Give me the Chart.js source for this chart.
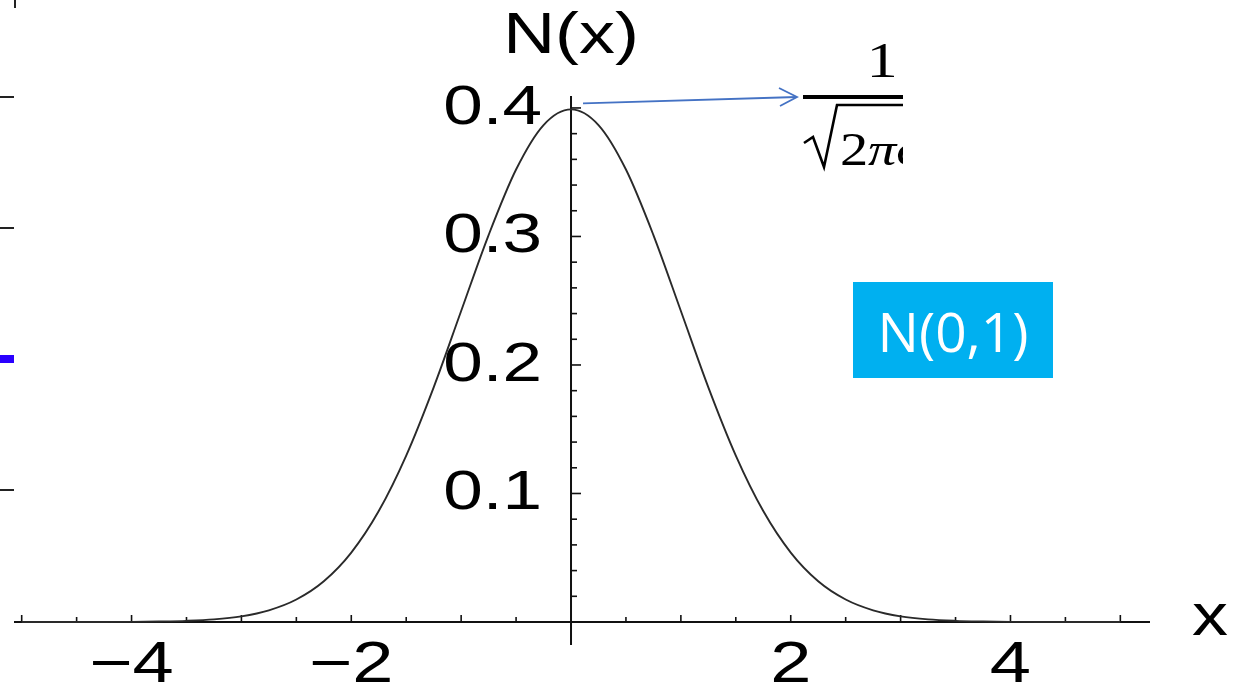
<!DOCTYPE html>
<html>
<head>
<meta charset="utf-8">
<script src="https://cdn.jsdelivr.net/npm/chart.js@4/dist/chart.umd.min.js"></script>
<style>
  html, body { margin: 0; padding: 0; background: #ffffff; }
  canvas { display: block; }
</style>
</head>
<body>
<canvas id="chartCanvas" width="1235" height="686"></canvas>
<script>
// x positions of the sampled density and the values read at each one
const xValues = [-5, -4.75, -4.5, -4.25, -4, -3.75, -3.5, -3.25, -3, -2.75, -2.5, -2.25, -2, -1.75, -1.5, -1.25, -1, -0.75, -0.5, -0.25,
    0, 0.25, 0.5, 0.75, 1, 1.25, 1.5, 1.75, 2, 2.25, 2.5, 2.75, 3, 3.25, 3.5, 3.75, 4, 4.25, 4.5, 4.75, 5];
const densityValues = [0, 0, 0, 0, 0.0001, 0.0004, 0.0009, 0.0020, 0.0044, 0.0091, 0.0175, 0.0317, 0.0540, 0.0863, 0.1295, 0.1826, 0.2420, 0.3011, 0.3521, 0.3867,
    0.3989, 0.3867, 0.3521, 0.3011, 0.2420, 0.1826, 0.1295, 0.0863, 0.0540, 0.0317, 0.0175, 0.0091, 0.0044, 0.0020, 0.0009, 0.0004, 0.0001, 0, 0, 0, 0];

// labelled ticks on both axes
const xTickValues = [-4, -2, 2, 4];
const xTickLabels = ['\u22124', '\u22122', '2', '4'];
const yTickValues = [0.1, 0.2, 0.3, 0.4];
const yTickLabels = ['0.1', '0.2', '0.3', '0.4'];

// axis titles and the peak annotation
const xAxisTitle = 'x';
const yAxisTitle = 'N(x)';
const peakX = 0;
const peakValue = 0.3989;
const boxLabel = 'N(0,1)';

// draw text squeezed/stretched horizontally around its anchor
function stretchedText(ctx, text, x, y, font, align, sx) {
    ctx.save();
    ctx.translate(x, y);
    ctx.scale(sx, 1);
    ctx.font = font;
    ctx.textAlign = align;
    ctx.textBaseline = 'alphabetic';
    ctx.fillText(text, 0, 0);
    ctx.restore();
}

// axes through the origin, Mathematica style, with minor ticks
const originAxes = {
    id: 'originAxes',
    beforeDatasetsDraw(chart) {
        const ctx = chart.ctx;
        const xs = chart.scales.x;
        const ys = chart.scales.y;
        const x0 = xs.getPixelForValue(0);
        const y0 = ys.getPixelForValue(0);

        ctx.save();
        ctx.strokeStyle = '#111111';
        ctx.lineWidth = 2;

        // horizontal axis
        ctx.beginPath();
        ctx.moveTo(xs.left, y0);
        ctx.lineTo(xs.right, y0);
        ctx.stroke();

        // vertical axis
        ctx.beginPath();
        ctx.moveTo(x0, ys.bottom);
        ctx.lineTo(x0, ys.top);
        ctx.stroke();

        // x ticks every 0.5, pointing up
        ctx.lineWidth = 1.6;
        for (let i = -10; i <= 10; i++) {
            if (i === 0) continue;
            const px = xs.getPixelForValue(i / 2);
            const len = (i % 2 === 0) ? 7 : 5;
            ctx.beginPath();
            ctx.moveTo(px, y0);
            ctx.lineTo(px, y0 - len);
            ctx.stroke();
        }

        // y ticks every 0.02, pointing right
        for (let i = 1; i <= 20; i++) {
            const py = ys.getPixelForValue(i * 0.02);
            const len = (i % 5 === 0) ? 10 : 6;
            ctx.beginPath();
            ctx.moveTo(x0, py);
            ctx.lineTo(x0 + len, py);
            ctx.stroke();
        }

        // tick labels
        ctx.fillStyle = '#000000';
        xTickValues.forEach((v, i) => {
            stretchedText(ctx, xTickLabels[i], xs.getPixelForValue(v), y0 + 60,
                '57px "Liberation Sans", Arial, sans-serif', 'center', 1.3);
        });
        yTickValues.forEach((v, i) => {
            stretchedText(ctx, yTickLabels[i], x0 - 29, ys.getPixelForValue(v) + 16,
                '56px "Liberation Sans", Arial, sans-serif', 'right', 1.27);
        });

        // axis titles
        stretchedText(ctx, yAxisTitle, x0, 53, '57px "Liberation Sans", Arial, sans-serif', 'center', 1.26);
        stretchedText(ctx, xAxisTitle, 1192, y0 + 13, '60px "Liberation Sans", Arial, sans-serif', 'left', 1.2);

        // leftover tick marks at the left edge
        ctx.strokeStyle = '#222222';
        ctx.lineWidth = 2;
        [97, 228, 490].forEach((py) => {
            ctx.beginPath();
            ctx.moveTo(0, py);
            ctx.lineTo(14, py);
            ctx.stroke();
        });
        ctx.beginPath();
        ctx.moveTo(15, 0);
        ctx.lineTo(15, 8);
        ctx.stroke();
        ctx.fillStyle = '#2a00ff';
        ctx.fillRect(0, 355, 14, 8);

        ctx.restore();
    },
    afterDraw(chart) {
        const ctx = chart.ctx;
        const xs = chart.scales.x;
        const ys = chart.scales.y;
        const px = xs.getPixelForValue(peakX);
        const py = ys.getPixelForValue(peakValue);

        ctx.save();

        // arrow from the peak to the formula
        ctx.strokeStyle = '#4472c4';
        ctx.lineWidth = 1.8;
        ctx.beginPath();
        ctx.moveTo(px + 12, py - 6);
        ctx.lineTo(797, 97);
        ctx.stroke();
        ctx.beginPath();
        ctx.moveTo(779, 88);
        ctx.lineTo(797, 97);
        ctx.lineTo(780, 106);
        ctx.stroke();

        // 1 / sqrt(2 pi sigma), cut off on the right
        ctx.beginPath();
        ctx.rect(0, 0, 903, 686);
        ctx.clip();
        ctx.fillStyle = '#000000';
        stretchedText(ctx, '1', 882, 77, '50px "Liberation Serif", "Times New Roman", serif', 'center', 1.25);
        ctx.fillRect(803, 95, 110, 4);
        ctx.strokeStyle = '#000000';
        ctx.lineWidth = 2.6;
        ctx.beginPath();
        ctx.moveTo(804, 143);
        ctx.lineTo(813, 137);
        ctx.lineTo(824, 167);
        ctx.lineTo(837, 105);
        ctx.lineTo(910, 105);
        ctx.stroke();
        stretchedText(ctx, '2', 840, 165, '47px "Liberation Serif", "Times New Roman", serif', 'left', 1.2);
        stretchedText(ctx, '\u03c0\u03c3', 868, 165, 'italic 47px "Liberation Serif", "Times New Roman", serif', 'left', 1.2);

        ctx.restore();
        ctx.save();

        // distribution label box
        ctx.fillStyle = '#00b0f0';
        ctx.fillRect(853, 282, 200, 96);
        ctx.fillStyle = '#ffffff';
        ctx.font = '55px "Open Sans", sans-serif';
        ctx.textAlign = 'center';
        ctx.textBaseline = 'alphabetic';
        ctx.fillText(boxLabel, 953, 352);

        ctx.restore();
    }
};

const ctx = document.getElementById('chartCanvas');
window.myChart = new Chart(ctx, {
    type: 'scatter',
    data: {
        datasets: [{
            data: xValues.map((x, i) => ({ x: x, y: densityValues[i] })),
            showLine: true,
            borderColor: '#2a2a2a',
            borderWidth: 1.9,
            pointRadius: 0,
            cubicInterpolationMode: 'monotone',
            fill: false
        }]
    },
    options: {
        responsive: false,
        animation: false,
        devicePixelRatio: 1,
        layout: { padding: { left: 14, right: 85, top: 96, bottom: 41 } },
        plugins: { legend: { display: false }, tooltip: { enabled: false } },
        scales: {
            x: { type: 'linear', min: -5.07, max: 5.27, display: false },
            y: { type: 'linear', min: -0.0179, max: 0.4093, display: false }
        }
    },
    plugins: [originAxes]
});
</script>
</body>
</html>
